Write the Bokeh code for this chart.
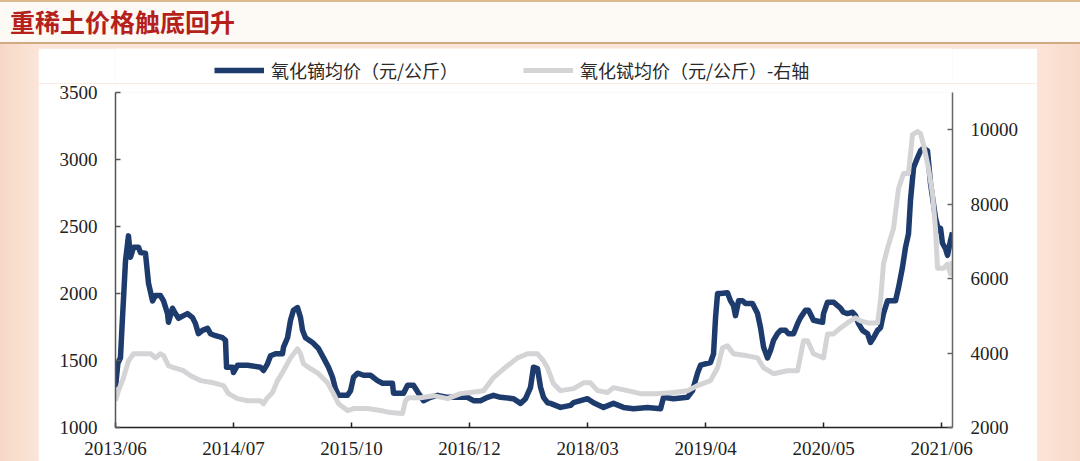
from bokeh.plotting import figure
from bokeh.models import (Range1d, LinearAxis, FixedTicker, Legend, LegendItem, Div)
from bokeh.layouts import column
from bokeh.embed import file_html
from bokeh.resources import INLINE

# ---------------- data (x in units of the category tick spacing) ----------------
tick_labels = ["2013/06", "2014/07", "2015/10", "2016/12", "2018/03", "2019/04", "2020/05", "2021/06"]

dy_x = [0, 0.02, 0.042, 0.057, 0.085, 0.11, 0.127, 0.153, 0.195, 0.212, 0.254, 0.28, 0.314, 0.339,
        0.381, 0.407, 0.441, 0.449, 0.483, 0.508, 0.534, 0.576, 0.61, 0.653, 0.678, 0.703, 0.737,
        0.78, 0.805, 0.847, 0.907, 0.932, 0.941, 0.992, 1.0, 1.034, 1.119, 1.229, 1.254, 1.288,
        1.314, 1.356, 1.415, 1.424, 1.458, 1.483, 1.508, 1.542, 1.568, 1.585, 1.61, 1.669, 1.72,
        1.763, 1.805, 1.839, 1.864, 1.89, 1.966, 1.992, 2.017, 2.051, 2.102, 2.161, 2.22, 2.263,
        2.347, 2.356, 2.441, 2.475, 2.525, 2.568, 2.61, 2.669, 2.729, 2.814, 2.898, 2.983, 3.034,
        3.093, 3.153, 3.203, 3.263, 3.373, 3.432, 3.475, 3.517, 3.542, 3.576, 3.602, 3.627, 3.661,
        3.686, 3.771, 3.856, 3.881, 4.0, 4.051, 4.136, 4.22, 4.305, 4.39, 4.508, 4.619, 4.644,
        4.729, 4.847, 4.89, 4.932, 4.958, 5.042, 5.068, 5.085, 5.102, 5.127, 5.186, 5.212, 5.237,
        5.254, 5.28, 5.314, 5.339, 5.398, 5.441, 5.466, 5.492, 5.525, 5.551, 5.576, 5.61, 5.636,
        5.678, 5.703, 5.746, 5.78, 5.805, 5.847, 5.873, 5.907, 5.915, 5.992, 6.0, 6.034, 6.085,
        6.119, 6.144, 6.169, 6.203, 6.246, 6.271, 6.297, 6.331, 6.373, 6.398, 6.424, 6.458, 6.483,
        6.508, 6.542, 6.61, 6.636, 6.669, 6.695, 6.72, 6.737, 6.763, 6.797, 6.822, 6.847, 6.881,
        6.907, 6.949, 6.975, 6.992, 7.008, 7.034, 7.051, 7.076, 7.093]
dy_price = [1300, 1480, 1520, 1780, 2245, 2430, 2270, 2345, 2345, 2305, 2300, 2075, 1945, 1985,
            1985, 1945, 1850, 1785, 1890, 1850, 1815, 1835, 1850, 1820, 1775, 1700, 1725,
            1740, 1700, 1685, 1670, 1650, 1450, 1450, 1410, 1465, 1465, 1450, 1425, 1475,
            1535, 1550, 1550, 1600, 1670, 1800, 1875, 1895, 1820, 1725, 1670, 1635, 1590,
            1520, 1450, 1375, 1290, 1240, 1240, 1275, 1375, 1405, 1390, 1390, 1350, 1330,
            1330, 1255, 1255, 1315, 1315, 1255, 1200, 1225, 1240, 1225, 1225, 1225, 1200,
            1200, 1225, 1240, 1225, 1215, 1180, 1215, 1300, 1450, 1440, 1300, 1225, 1185,
            1180, 1150, 1165, 1185, 1215, 1185, 1150, 1180, 1150, 1140, 1150, 1140, 1225,
            1215, 1225, 1275, 1405, 1465, 1485, 1550, 1820, 2000, 2000, 2005, 1945, 1910,
            1835, 1945, 1945, 1925, 1925, 1850, 1745, 1600, 1520, 1575, 1650, 1700, 1725,
            1725, 1700, 1700, 1775, 1820, 1875, 1875, 1815, 1800, 1785, 1850, 1935, 1935,
            1910, 1890, 1860, 1850, 1860, 1835, 1775, 1725, 1700, 1635, 1670, 1725, 1745,
            1850, 1945, 1945, 2045, 2195, 2345, 2445, 2695, 2940, 3015, 3065, 3085, 3065,
            2820, 2565, 2470, 2485, 2375, 2335, 2285, 2395, 2455]

tb_x = [0, 0.025, 0.068, 0.11, 0.153, 0.297, 0.339, 0.381, 0.407, 0.449, 0.492, 0.576, 0.636,
        0.72, 0.831, 0.915, 0.958, 1.034, 1.119, 1.229, 1.254, 1.288, 1.331, 1.373, 1.424, 1.483,
        1.542, 1.568, 1.593, 1.653, 1.72, 1.797, 1.847, 1.89, 1.966, 2.017, 2.136, 2.246, 2.331,
        2.432, 2.458, 2.483, 2.585, 2.695, 2.814, 2.924, 3.008, 3.119, 3.203, 3.322, 3.407,
        3.492, 3.576, 3.627, 3.661, 3.712, 3.771, 3.881, 3.966, 4.025, 4.085, 4.169, 4.22,
        4.339, 4.449, 4.593, 4.729, 4.847, 4.932, 5.042, 5.102, 5.144, 5.186, 5.237, 5.356,
        5.441, 5.492, 5.576, 5.695, 5.78, 5.831, 5.864, 5.915, 6.0, 6.034, 6.085, 6.144, 6.203,
        6.271, 6.314, 6.373, 6.458, 6.483, 6.508, 6.542, 6.593, 6.636, 6.678, 6.72, 6.754,
        6.797, 6.822, 6.847, 6.89, 6.924, 6.949, 6.966, 7.017, 7.051, 7.076, 7.093]
tb_price = [2720, 2990, 3340, 3790, 3980, 3980, 3870, 3980, 3930, 3660, 3610, 3525, 3390,
            3260, 3200, 3125, 2910, 2775, 2720, 2720, 2640, 2800, 2940, 3260, 3525, 3870,
            4115, 3980, 3715, 3580, 3445, 3200, 2910, 2640, 2455, 2510, 2510, 2455, 2400,
            2375, 2720, 2800, 2800, 2855, 2775, 2910, 2940, 2990, 3340, 3660, 3870,
            3980, 3980, 3790, 3605, 3175, 2990, 3045, 3200, 3200, 2990, 2940, 3070,
            2990, 2910, 2910, 2940, 2990, 3125, 3260, 3605, 4140, 4195, 3980, 3925,
            3870, 3605, 3445, 3525, 3525, 4330, 4330, 3980, 3870, 4515, 4515, 4675, 4810,
            4945, 4865, 4810, 4810, 5400, 6390, 6815, 7350, 8420, 8825, 8825, 9870,
            9950, 9895, 9600, 8960, 8260, 7350, 6280, 6280, 6390, 6120, 6470]

dy_ticks = [1000, 1500, 2000, 2500, 3000, 3500]
tb_ticks = [2000, 4000, 6000, 8000, 10000]

dy_name = "氧化镝均价（元/公斤）"
tb_name = "氧化铽均价（元/公斤）-右轴"

# ---------------- styles ----------------
DARK = "#1d3b6d"
GRAY = "#d4d4d7"
SERIF = "Liberation Serif"
PEACH_BG = "linear-gradient(to right, #f7d8c6 0px, #fbe5d8 38px, #fbe5d8 1037px, #f8dac9 1080px)"

# ---------------- main chart ----------------
p = figure(width=999, height=378, x_range=Range1d(0, 7.093), y_range=Range1d(1000, 3500),
           output_backend="svg", toolbar_location=None,
           min_border_left=77, min_border_right=85, min_border_top=9, min_border_bottom=34)
p.extra_y_ranges = {"tb": Range1d(2000, 11000)}
p.outline_line_color = None
p.xgrid.visible = False
p.ygrid.visible = False
p.border_fill_color = "white"
p.background_fill_color = "white"

r_dy = p.line(dy_x, dy_price, line_color=DARK, line_width=5.5, line_join="round")
r_tb = p.line(tb_x, tb_price, line_color=GRAY, line_width=5, line_join="round", y_range_name="tb")

def style_axis(ax, line_color):
    ax.axis_line_color = line_color
    ax.axis_line_width = 1.5
    ax.major_tick_line_color = line_color
    ax.major_tick_line_width = 1.5
    ax.major_tick_in = 5
    ax.major_tick_out = 0
    ax.minor_tick_line_color = None
    ax.major_label_text_font = SERIF
    ax.major_label_text_font_size = "19px"
    ax.major_label_text_color = "#222222"

xa = p.xaxis[0]
xa.ticker = FixedTicker(ticks=list(range(len(tick_labels))))
xa.major_label_overrides = {i: lab for i, lab in enumerate(tick_labels)}
style_axis(xa, "#222222")
xa.major_label_standoff = 10

ya = p.yaxis[0]
ya.ticker = FixedTicker(ticks=dy_ticks)
style_axis(ya, "#555555")
ya.major_label_standoff = 18

ra = LinearAxis(y_range_name="tb", ticker=FixedTicker(ticks=tb_ticks))
style_axis(ra, "#666666")
ra.major_label_standoff = 18
p.add_layout(ra, "right")

# ---------------- legend strip (a small figure above the chart; its frame is
# aligned with the chart's frame, and the series lie outside its ranges) ----------------
lg = figure(width=999, height=35, x_range=Range1d(0, 1), y_range=Range1d(-2, -1),
            output_backend="svg", toolbar_location=None,
            x_axis_location=None, y_axis_location=None,
            min_border_left=0, min_border_right=0, min_border_top=0, min_border_bottom=0)
lg.outline_line_color = None
lg.xgrid.visible = False
lg.ygrid.visible = False
lg.border_fill_color = "white"
lg.background_fill_color = "white"
k_dy = lg.line(dy_x, dy_price, line_color=DARK, line_width=5.5)
k_tb = lg.line(tb_x, tb_price, line_color=GRAY, line_width=5)

legend = Legend(items=[LegendItem(label=dy_name, renderers=[k_dy]),
                       LegendItem(label=tb_name, renderers=[k_tb])],
                orientation="horizontal", location=(99, 0),
                glyph_width=50, glyph_height=16, label_height=16, label_standoff=7,
                spacing=65, padding=0, margin=0, border_line_color=None,
                background_fill_alpha=0,
                label_text_font="Noto Sans CJK SC", label_text_font_size="18px",
                label_text_color="#2a2a2a")
lg.add_layout(legend, "center")

# ---------------- page frame ----------------
title = Div(text="重稀土价格触底回升", width=1080, height=44, margin=0,
            styles={"background-color": "#fdf9f4", "border-top": "2px solid #dcb991",
                    "border-bottom": "2px solid #d2a983", "box-sizing": "border-box",
                    "font-family": "'Noto Sans CJK SC'", "font-weight": "bold",
                    "font-size": "25px", "color": "#b51f1c", "padding-left": "10px",
                    "line-height": "38px", "overflow": "hidden"})

lg.margin = (4, 43, 0, 38)
p.margin = (0, 43, 0, 38)
body = column(lg, p, styles={"background": PEACH_BG})
layout = column(title, body)

open("out.html", "w").write(file_html(layout, INLINE))
